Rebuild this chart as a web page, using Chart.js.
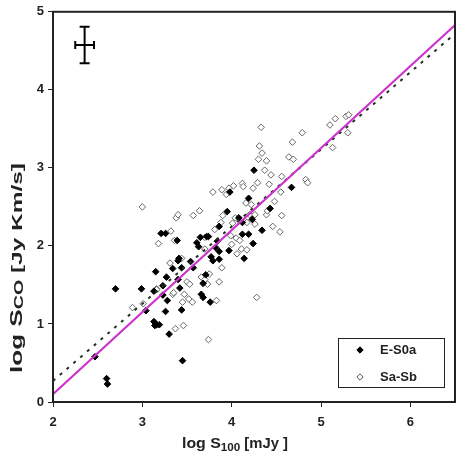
<!DOCTYPE html>
<html><head><meta charset="utf-8">
<script src="https://cdn.jsdelivr.net/npm/chart.js@4.4.1/dist/chart.umd.min.js"></script>
<style>html,body{margin:0;padding:0;background:#fff}#wrap{width:464px;height:455px}</style>
</head><body><div id="wrap"><canvas id="c" width="464" height="455"></canvas></div>
<script>
// ---- data ----
const seriesNames = ['E-S0a', 'Sa-Sb'];
const xTicks = [2, 3, 4, 5, 6];
const yTicks = [0, 1, 2, 3, 4, 5];
const xRange = [2, 6.5];
const yRange = [0, 5];

const es0aX = [2.47,2.60,2.61,2.70,2.99,3.04,3.13,3.14,3.16,3.19,3.15,3.13,3.21,3.26,3.23,3.23,3.26,3.27,3.28,3.30,3.34,3.39,3.40,3.40,3.41,3.42,3.44,3.44,3.45,3.54,3.57,3.61,3.63,3.65,3.66,3.68,3.68,3.71,3.74,3.76,3.77,3.79,3.82,3.84,3.86,3.86,3.86,3.95,3.97,3.98,4.08,4.12,4.12,4.14,4.19,4.19,4.23,4.24,4.25,4.34,4.43,4.67,3.72];
const es0aY = [0.58,0.30,0.23,1.45,1.45,1.17,1.03,0.98,0.99,0.99,1.67,1.42,2.16,2.16,1.49,1.37,1.16,1.60,1.30,0.87,1.71,2.07,1.81,1.57,1.84,1.46,1.72,1.18,0.53,1.80,1.72,2.04,1.99,2.11,1.38,1.34,1.52,1.63,2.12,1.28,1.86,1.81,1.98,2.06,2.25,1.83,1.93,2.44,1.94,2.69,2.36,2.30,2.15,1.84,2.61,2.15,2.34,2.03,2.97,2.20,2.48,2.75,2.12];

const sasbX = [2.89,3.01,3.00,3.18,3.16,3.32,3.34,3.36,3.37,3.38,3.40,3.44,3.45,3.46,3.47,3.50,3.53,3.52,3.57,3.56,3.64,3.66,3.70,3.70,3.70,3.73,3.74,3.75,3.79,3.81,3.83,3.86,3.89,3.90,3.88,3.89,3.94,3.97,3.99,4.00,4.01,4.02,4.04,4.05,4.06,4.09,4.11,4.12,4.13,4.16,4.17,4.17,4.20,4.22,4.24,4.26,4.26,4.28,4.29,4.30,4.31,4.33,4.34,4.37,4.39,4.39,4.40,4.42,4.44,4.46,4.48,4.54,4.55,4.56,4.56,4.64,4.68,4.69,4.79,4.83,4.85,5.10,5.13,5.16,5.28,5.30,5.31,3.31,3.16,3.35];
const sasbY = [1.21,1.26,2.50,2.03,1.45,2.19,1.38,2.07,0.94,2.36,2.40,1.84,1.28,0.98,1.38,1.54,1.51,1.32,2.39,1.28,2.45,1.60,1.57,1.96,2.11,1.51,0.80,1.64,2.69,2.21,1.30,1.54,1.72,2.39,2.30,2.72,2.66,2.74,2.13,2.02,2.29,2.77,2.36,2.10,1.90,2.07,1.96,2.80,2.76,2.55,1.95,2.30,2.40,2.53,2.74,2.40,2.28,1.34,2.81,3.11,3.28,3.52,3.19,2.97,3.09,2.40,2.45,2.79,2.91,2.25,2.57,2.18,2.69,2.89,2.39,3.14,3.33,3.11,3.45,2.85,2.81,3.55,3.26,3.63,3.66,3.45,3.68,1.78,1.44,1.40];

const fitX = [2, 6.5];
const fitSolidY = [0.10, 4.83];
const fitDottedY = [0.27, 4.72];

const errCenter = [2.354, 4.575];
const errHalf = [0.105, 0.235];

// ---- build ----
const toPts = (xs, ys) => xs.map((x, i) => ({x, y: ys[i]}));
const FONT = "'Liberation Sans', Arial, sans-serif";

const framePlugin = {
  id: 'frame',
  afterDatasetsDraw(chart) {
    const {ctx, chartArea: a} = chart;
    ctx.save();
    ctx.strokeStyle = '#222';
    ctx.lineWidth = 2;
    ctx.strokeRect(a.left, a.top, a.right - a.left, a.bottom - a.top);
    ctx.restore();
  }
};

function richWidth(ctx, parts) {
  let w = 0;
  parts.forEach(p => { ctx.font = 'bold ' + p.size + 'px ' + FONT; w += ctx.measureText(p.t).width; });
  return w;
}
function drawRich(ctx, parts, x, y) {
  let cx = x;
  parts.forEach(p => {
    ctx.font = 'bold ' + p.size + 'px ' + FONT;
    ctx.fillText(p.t, cx, y + (p.dy || 0));
    cx += ctx.measureText(p.t).width;
  });
}

const titlePlugin = {
  id: 'titles',
  afterDraw(chart) {
    const {ctx} = chart;
    ctx.save();
    ctx.fillStyle = '#222';
    ctx.textBaseline = 'alphabetic';
    ctx.textAlign = 'left';
    const xParts = [{t: 'log S', size: 15}, {t: '100', size: 11, dy: 3}, {t: ' [mJy ]', size: 14}];
    const xw = richWidth(ctx, xParts);
    ctx.save();
    ctx.translate(182, 448);
    ctx.scale(106 / xw, 1);
    drawRich(ctx, xParts, 0, 0);
    ctx.restore();
    const yParts = [{t: 'log S', size: 16}, {t: 'CO', size: 12, dy: 1}, {t: ' [Jy Km/s]', size: 15}];
    const yw = richWidth(ctx, yParts);
    ctx.translate(22, 373);
    ctx.rotate(-Math.PI / 2);
    ctx.scale(210 / yw, 1);
    drawRich(ctx, yParts, 0, 0);
    ctx.restore();
  }
};

const legendPlugin = {
  id: 'boxLegend',
  afterDraw(chart) {
    const {ctx, chartArea: a} = chart;
    const w = 106, h = 49;
    const x0 = a.right - 11 - w, y0 = a.bottom - 15 - h;
    ctx.save();
    ctx.fillStyle = '#fff';
    ctx.fillRect(x0, y0, w, h);
    ctx.strokeStyle = '#222';
    ctx.lineWidth = 1;
    ctx.strokeRect(x0 + 0.5, y0 + 0.5, w, h);
    const styles = [
      {fill: '#000', stroke: '#000'},
      {fill: '#fff', stroke: '#555'}
    ];
    seriesNames.forEach((name, i) => {
      const cy = y0 + 12 + i * 27;
      const cx = x0 + 22;
      const r = 3.2;
      ctx.beginPath();
      ctx.moveTo(cx, cy - r); ctx.lineTo(cx + r, cy); ctx.lineTo(cx, cy + r); ctx.lineTo(cx - r, cy); ctx.closePath();
      ctx.fillStyle = styles[i].fill; ctx.fill();
      ctx.strokeStyle = styles[i].stroke; ctx.lineWidth = 1; ctx.stroke();
      ctx.fillStyle = '#222';
      ctx.font = 'bold 13px ' + FONT;
      ctx.textBaseline = 'middle';
      ctx.fillText(name, x0 + 42, cy);
    });
    ctx.restore();
  }
};

new Chart(document.getElementById('c'), {
  type: 'scatter',
  data: {
    datasets: [
      {label: 'fit', type: 'line', data: toPts(fitX, fitSolidY), borderColor: '#cc33cc', borderWidth: 2, pointRadius: 0, showLine: true},
      {label: 'fit2', type: 'line', data: toPts(fitX, fitDottedY), borderColor: '#223322', borderWidth: 2, borderDash: [3, 6], pointRadius: 0, showLine: true},
      {label: 'errV', type: 'line', data: [{x: errCenter[0], y: errCenter[1] - errHalf[1]}, {x: errCenter[0], y: errCenter[1] + errHalf[1]}], borderColor: '#000', borderWidth: 2, pointStyle: 'line', pointRadius: 5, pointBorderWidth: 2, pointBorderColor: '#000', showLine: true},
      {label: 'errH', type: 'line', data: [{x: errCenter[0] - errHalf[0], y: errCenter[1]}, {x: errCenter[0] + errHalf[0], y: errCenter[1]}], borderColor: '#000', borderWidth: 2, pointStyle: 'line', rotation: 90, pointRadius: 4, pointBorderWidth: 2, pointBorderColor: '#000', showLine: true},
      {label: seriesNames[0], data: toPts(es0aX, es0aY), pointStyle: 'rectRot', pointRadius: 3.3, backgroundColor: '#000', borderColor: '#000', borderWidth: 1},
      {label: seriesNames[1], data: toPts(sasbX, sasbY), pointStyle: 'rectRot', pointRadius: 3.3, backgroundColor: '#fff', borderColor: '#666', borderWidth: 1}
    ]
  },
  options: {
    responsive: false,
    animation: false,
    devicePixelRatio: 1,
    layout: {padding: {left: 36, right: 9, top: 10, bottom: 25}},
    plugins: {legend: {display: false}, tooltip: {enabled: false}},
    scales: {
      x: {
        type: 'linear', min: xRange[0], max: xRange[1],
        afterBuildTicks: s => { s.ticks = xTicks.map(v => ({value: v})); },
        afterFit: s => { s.height = 28; },
        grid: {drawOnChartArea: false, drawTicks: true, tickLength: 5, color: '#222', lineWidth: 1},
        border: {display: true, color: '#222', width: 2},
        ticks: {color: '#222', font: {family: FONT, size: 13, weight: 'bold'}, padding: 8, maxRotation: 0}
      },
      y: {
        type: 'linear', min: yRange[0], max: yRange[1],
        afterBuildTicks: s => { s.ticks = yTicks.map(v => ({value: v})); },
        afterFit: s => { s.width = 17; },
        grid: {drawOnChartArea: false, drawTicks: true, tickLength: 5, color: '#222', lineWidth: 1},
        border: {display: true, color: '#222', width: 2},
        ticks: {color: '#222', font: {family: FONT, size: 13, weight: 'bold'}, padding: 4}
      }
    }
  },
  plugins: [framePlugin, titlePlugin, legendPlugin]
});
</script></body></html>
